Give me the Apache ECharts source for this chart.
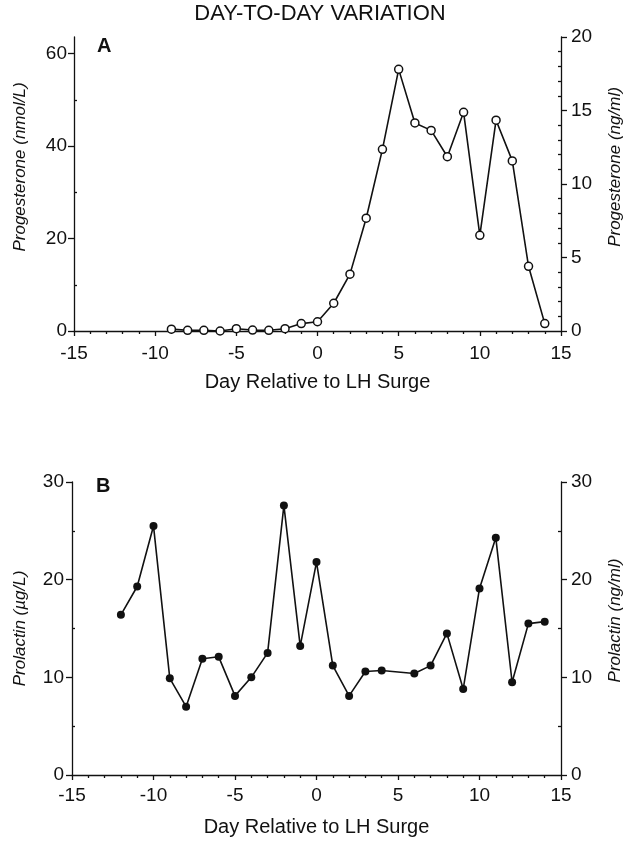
<!DOCTYPE html>
<html>
<head>
<meta charset="utf-8">
<script src="https://cdn.jsdelivr.net/npm/echarts@6/dist/echarts.min.js"></script>
<style>
html,body{margin:0;padding:0;background:#fff;}
#chart{width:632px;height:841px;}
</style>
</head>
<body>
<div id="chart"></div>
<script>
// ---- Data ----
const daysA = [-9, -8, -7, -6, -5, -4, -3, -2, -1, 0, 1, 2, 3, 4, 5, 6, 7, 8, 9, 10, 11, 12, 13, 14];
const progesterone = [0.4, 0.15, 0.15, 0.0, 0.5, 0.2, 0.15, 0.5, 1.6, 2.0, 6.0, 12.3, 24.4, 39.3, 56.6, 45.0, 43.4, 37.7, 47.3, 20.7, 45.6, 36.8, 14.0, 1.6];

const daysB = [-12, -11, -10, -9, -8, -7, -6, -5, -4, -3, -2, -1, 0, 1, 2, 3, 4, 6, 7, 8, 9, 10, 11, 12, 13, 14];
const prolactin = [16.4, 19.3, 25.5, 9.9, 7.0, 11.9, 12.1, 8.1, 10.0, 12.5, 27.6, 13.2, 21.8, 11.2, 8.1, 10.6, 10.7, 10.4, 11.2, 14.5, 8.8, 19.1, 24.3, 9.5, 15.5, 15.7];

const xTicks = [-15, -10, -5, 0, 5, 10, 15];
const progNmolTicks = [0, 20, 40, 60];
const progNmolMinor = [10, 30, 50];
const progNgTicks = [0, 5, 10, 15, 20];
const progNgMinor = [1, 2, 3, 4, 6, 7, 8, 9, 11, 12, 13, 14, 16, 17, 18, 19];
const prolTicks = [0, 10, 20, 30];
const prolMinor = [5, 15, 25];

const progNmolMax = 63.6;   // 20 ng/ml expressed in nmol/L
const progNgMax = 20;
const prolMax = 30;

// ---- Styles ----
const FONT = 'Liberation Sans, Arial, Helvetica, sans-serif';
const BLACK = '#111';
const lineStyle = { color: BLACK, width: 1.3 };

function xAxis(grid, margin, gap) {
  return {
    gridIndex: grid, type: 'value', min: -15, max: 15, interval: 5,
    axisLine: { show: true, onZero: false, lineStyle: lineStyle },
    axisTick: { show: true, inside: false, length: 5, lineStyle: lineStyle },
    minorTick: { show: true, splitNumber: 5, length: 3, lineStyle: lineStyle },
    splitLine: { show: false },
    axisLabel: { color: BLACK, fontSize: 19, fontFamily: FONT, margin: margin, customValues: xTicks },
    name: 'Day Relative to LH Surge', nameLocation: 'middle', nameGap: gap,
    nameTextStyle: { color: BLACK, fontSize: 20, fontFamily: FONT }
  };
}
function mainY(grid, pos, max, ticks, name, gap, shift, margin) {
  return {
    gridIndex: grid, type: 'value', position: pos, min: 0, max: max,
    axisLine: { show: true, onZero: false, lineStyle: lineStyle },
    axisTick: { show: true, inside: false, length: 6, lineStyle: lineStyle, customValues: ticks },
    axisLabel: { color: BLACK, fontSize: 19, fontFamily: FONT, margin: margin, customValues: ticks },
    splitLine: { show: false },
    name: name, nameLocation: 'middle', nameGap: gap,
    nameTextStyle: { color: BLACK, fontSize: 17, fontFamily: FONT, fontStyle: 'italic', padding: [0, 0, 0, shift * 2] }
  };
}
function minorY(grid, pos, max, ticks) {
  return {
    gridIndex: grid, type: 'value', position: pos, min: 0, max: max,
    axisLine: { show: false, onZero: false },
    axisTick: { show: true, inside: true, length: 3, lineStyle: lineStyle, customValues: ticks },
    axisLabel: { show: false },
    splitLine: { show: false }
  };
}

const chart = echarts.init(document.getElementById('chart'), null, { renderer: 'canvas' });
chart.setOption({
  backgroundColor: '#fff',
  animation: false,
  title: [
    { text: 'DAY-TO-DAY VARIATION', left: 320, top: 3, textAlign: 'center', padding: 0,
      textStyle: { color: BLACK, fontSize: 22, fontWeight: 'normal', fontFamily: FONT } },
    { text: 'A', left: 97, top: 36, padding: 0,
      textStyle: { color: BLACK, fontSize: 20, fontWeight: 'bold', fontFamily: FONT } },
    { text: 'B', left: 96, top: 476, padding: 0,
      textStyle: { color: BLACK, fontSize: 20, fontWeight: 'bold', fontFamily: FONT } }
  ],
  grid: [
    { left: 74, top: 37, width: 491, height: 294 },
    { left: 72, top: 482, width: 491, height: 293 }
  ],
  xAxis: [xAxis(0, 13, 41), xAxis(1, 11, 42)],
  yAxis: [
    mainY(0, 'left', progNmolMax, progNmolTicks, 'Progesterone (nmol/L)', 45, 17, 7),
    minorY(0, 'left', progNmolMax, progNmolMinor),
    mainY(0, 'right', progNgMax, progNgTicks, 'Progesterone (ng/ml)', 46, 17, 10),
    minorY(0, 'right', progNgMax, progNgMinor),
    mainY(1, 'left', prolMax, prolTicks, 'Prolactin (\u00b5g/L)', 43, 0, 8),
    minorY(1, 'left', prolMax, prolMinor),
    mainY(1, 'right', prolMax, prolTicks, 'Prolactin (ng/ml)', 46, 8, 10),
    minorY(1, 'right', prolMax, prolMinor)
  ],
  series: [
    {
      type: 'line', xAxisIndex: 0, yAxisIndex: 0,
      data: daysA.map((d, i) => [d, progesterone[i]]),
      symbol: 'circle', symbolSize: 8, showAllSymbol: true,
      lineStyle: { color: BLACK, width: 1.6 },
      itemStyle: { color: '#fff', borderColor: BLACK, borderWidth: 1.5 },
      z: 3
    },
    {
      type: 'line', xAxisIndex: 1, yAxisIndex: 4,
      data: daysB.map((d, i) => [d, prolactin[i]]),
      symbol: 'circle', symbolSize: 8, showAllSymbol: true,
      lineStyle: { color: BLACK, width: 1.6 },
      itemStyle: { color: BLACK, borderColor: BLACK, borderWidth: 0 },
      z: 3
    }
  ]
});
</script>
</body>
</html>
